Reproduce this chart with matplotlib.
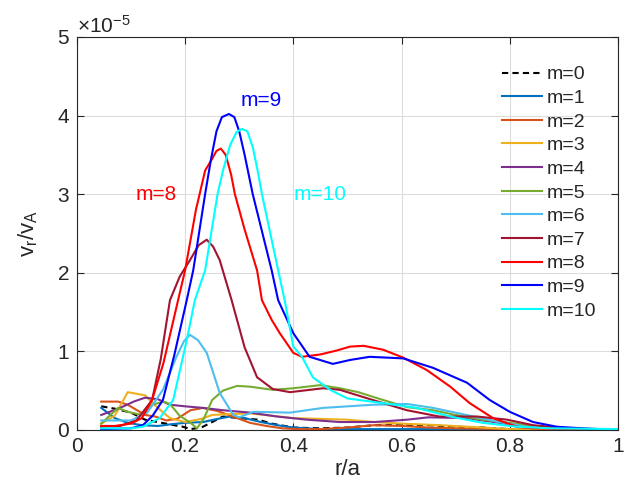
import matplotlib
matplotlib.use("Agg")
import matplotlib.pyplot as plt
from matplotlib.ticker import ScalarFormatter

plt.rcParams['font.family'] = ['Liberation Sans', 'DejaVu Sans']
plt.rcParams['mathtext.default'] = 'regular'

SCALE = 1e-5

# ---- data (v_r/v_A in units of 1e-5) ----
r_m0 = [0.045, 0.07, 0.10, 0.126, 0.157, 0.18, 0.196, 0.21, 0.23, 0.25, 0.27, 0.30, 0.335, 0.36, 0.40, 0.45, 0.50, 0.55, 0.60, 0.65, 0.70, 0.75, 0.80, 0.85, 1.0]
v_m0 = [0.30, 0.27, 0.22, 0.13, 0.09, 0.06, 0.04, 0.01, 0.03, 0.10, 0.17, 0.15, 0.13, 0.08, 0.03, 0.02, 0.03, 0.06, 0.06, 0.06, 0.04, 0.03, 0.01, 0.01, 0.0]

r_m1 = [0.045, 0.07, 0.094, 0.12, 0.15, 0.172, 0.20, 0.233, 0.26, 0.283, 0.31, 0.34, 0.37, 0.40, 0.45, 0.50, 0.60, 0.70, 0.80, 1.0]
v_m1 = [0.28, 0.15, 0.09, 0.06, 0.05, 0.07, 0.09, 0.10, 0.14, 0.17, 0.15, 0.10, 0.06, 0.03, 0.01, 0.01, 0.01, 0.01, 0.0, 0.0]

r_m2 = [0.045, 0.076, 0.094, 0.126, 0.145, 0.165, 0.185, 0.21, 0.233, 0.26, 0.296, 0.32, 0.35, 0.38, 0.406, 0.45, 0.50, 0.55, 0.60, 0.65, 0.70, 0.80, 1.0]
v_m2 = [0.36, 0.36, 0.32, 0.19, 0.17, 0.12, 0.14, 0.25, 0.28, 0.24, 0.15, 0.09, 0.05, 0.02, 0.01, 0.01, 0.03, 0.06, 0.05, 0.03, 0.02, 0.01, 0.0]

r_m3 = [0.045, 0.07, 0.094, 0.126, 0.148, 0.172, 0.20, 0.23, 0.25, 0.28, 0.32, 0.36, 0.40, 0.45, 0.50, 0.55, 0.60, 0.67, 0.75, 0.80, 1.0]
v_m3 = [0.08, 0.18, 0.48, 0.44, 0.29, 0.15, 0.10, 0.14, 0.19, 0.20, 0.21, 0.18, 0.15, 0.14, 0.13, 0.10, 0.08, 0.06, 0.03, 0.01, 0.0]

r_m4 = [0.045, 0.08, 0.105, 0.126, 0.15, 0.172, 0.20, 0.233, 0.27, 0.32, 0.37, 0.425, 0.486, 0.55, 0.61, 0.65, 0.72, 0.76, 0.81, 0.90, 1.0]
v_m4 = [0.19, 0.28, 0.36, 0.41, 0.39, 0.32, 0.30, 0.28, 0.25, 0.22, 0.17, 0.13, 0.10, 0.10, 0.13, 0.16, 0.15, 0.11, 0.06, 0.01, 0.0]

r_m5 = [0.045, 0.076, 0.094, 0.12, 0.139, 0.16, 0.172, 0.19, 0.21, 0.222, 0.235, 0.25, 0.27, 0.296, 0.32, 0.362, 0.40, 0.45, 0.486, 0.52, 0.566, 0.61, 0.658, 0.70, 0.75, 0.80, 0.85, 0.90, 1.0]
v_m5 = [0.08, 0.28, 0.23, 0.19, 0.32, 0.36, 0.33, 0.18, 0.09, 0.02, 0.15, 0.38, 0.50, 0.56, 0.55, 0.51, 0.53, 0.57, 0.53, 0.48, 0.38, 0.29, 0.25, 0.19, 0.13, 0.09, 0.04, 0.01, 0.0]

r_m6 = [0.045, 0.10, 0.13, 0.159, 0.184, 0.198, 0.209, 0.224, 0.24, 0.264, 0.289, 0.30, 0.326, 0.394, 0.455, 0.547, 0.61, 0.658, 0.72, 0.78, 0.83, 0.90, 1.0]
v_m6 = [0.12, 0.12, 0.22, 0.51, 0.93, 1.13, 1.21, 1.14, 0.98, 0.47, 0.19, 0.16, 0.23, 0.22, 0.28, 0.32, 0.33, 0.28, 0.19, 0.10, 0.04, 0.01, 0.0]

r_m7 = [0.045, 0.08, 0.11, 0.139, 0.155, 0.172, 0.19, 0.209, 0.225, 0.24, 0.252, 0.264, 0.286, 0.31, 0.333, 0.362, 0.394, 0.455, 0.486, 0.547, 0.61, 0.67, 0.74, 0.795, 0.843, 0.905, 1.0]
v_m7 = [0.04, 0.05, 0.12, 0.38, 0.90, 1.65, 1.95, 2.16, 2.35, 2.42, 2.33, 2.16, 1.65, 1.05, 0.67, 0.52, 0.48, 0.53, 0.51, 0.38, 0.25, 0.17, 0.17, 0.13, 0.06, 0.02, 0.0]

r_m8 = [0.045, 0.07, 0.10, 0.12, 0.139, 0.16, 0.187, 0.20, 0.22, 0.237, 0.25, 0.258, 0.266, 0.275, 0.285, 0.292, 0.31, 0.333, 0.342, 0.36, 0.375, 0.40, 0.416, 0.45, 0.48, 0.505, 0.53, 0.566, 0.603, 0.647, 0.69, 0.726, 0.769, 0.813, 0.843, 0.90, 1.0]
v_m8 = [0.05, 0.05, 0.08, 0.15, 0.38, 0.85, 1.65, 2.03, 2.8, 3.3, 3.45, 3.55, 3.58, 3.5, 3.25, 3.0, 2.55, 2.03, 1.65, 1.40, 1.23, 0.98, 0.93, 0.96, 1.01, 1.06, 1.07, 1.02, 0.92, 0.76, 0.55, 0.34, 0.15, 0.04, 0.02, 0.01, 0.0]

r_m9 = [0.045, 0.10, 0.122, 0.14, 0.159, 0.18, 0.203, 0.215, 0.237, 0.248, 0.258, 0.268, 0.281, 0.291, 0.30, 0.31, 0.325, 0.36, 0.372, 0.40, 0.43, 0.473, 0.505, 0.541, 0.603, 0.658, 0.721, 0.763, 0.80, 0.843, 0.887, 0.935, 1.0]
v_m9 = [0.01, 0.02, 0.06, 0.18, 0.38, 0.95, 1.65, 2.03, 3.0, 3.45, 3.8, 3.98, 4.02, 3.98, 3.8, 3.5, 3.0, 2.03, 1.65, 1.23, 0.93, 0.84, 0.89, 0.93, 0.91, 0.79, 0.60, 0.38, 0.23, 0.10, 0.04, 0.02, 0.0]

r_m10 = [0.045, 0.10, 0.122, 0.153, 0.178, 0.203, 0.218, 0.237, 0.26, 0.27, 0.283, 0.295, 0.305, 0.315, 0.325, 0.334, 0.342, 0.372, 0.384, 0.40, 0.416, 0.436, 0.468, 0.50, 0.566, 0.628, 0.69, 0.75, 0.813, 0.874, 1.0]
v_m10 = [0.02, 0.02, 0.04, 0.15, 0.38, 1.14, 1.65, 2.03, 3.0, 3.3, 3.62, 3.79, 3.83, 3.8, 3.6, 3.3, 3.0, 2.03, 1.65, 1.06, 0.93, 0.67, 0.51, 0.40, 0.34, 0.28, 0.17, 0.09, 0.04, 0.02, 0.01]

series_r = [r_m0, r_m1, r_m2, r_m3, r_m4, r_m5, r_m6, r_m7, r_m8, r_m9, r_m10]
series_v = [v_m0, v_m1, v_m2, v_m3, v_m4, v_m5, v_m6, v_m7, v_m8, v_m9, v_m10]
labels = ['m=%d' % i for i in range(11)]
colors = ['k', '#0072BD', '#D95319', '#EDB120', '#7E2F8E', '#77AC30',
          '#4DBEEE', '#A2142F', '#FF0000', '#0000FF', '#00FFFF']

x_ticks = [0, 0.2, 0.4, 0.6, 0.8, 1.0]
x_tick_labels = ['0', '0.2', '0.4', '0.6', '0.8', '1']
y_ticks = [0, 1, 2, 3, 4, 5]

# ---- figure ----
fig = plt.figure(figsize=(6.3, 4.93), dpi=100)
ax = fig.add_axes([0.122, 0.128, 0.859, 0.797])

for i, (r, v) in enumerate(zip(series_r, series_v)):
    if i == 0:
        ax.plot(r, [val * SCALE for val in v], color=colors[i], lw=1.5,
                ls='--', dashes=(3, 2), label=labels[i])
    else:
        ax.plot(r, [val * SCALE for val in v], color=colors[i], lw=1.5,
                label=labels[i])

ax.set_xlim(0, 1)
ax.set_ylim(0, 5 * SCALE)
ax.set_xticks(x_ticks)
ax.set_xticklabels(x_tick_labels)
ax.set_yticks([t * SCALE for t in y_ticks])
fmt = ScalarFormatter(useMathText=True)
fmt.set_powerlimits((0, 0))
ax.yaxis.set_major_formatter(fmt)
ax.yaxis.get_offset_text().set_fontsize(15)
ax.yaxis.get_offset_text().set_color('#262626')

ax.grid(True, color='#dcdcdc', lw=0.8)
ax.set_axisbelow(True)
ax.tick_params(direction='in', top=True, right=True, length=5, width=0.8,
               labelsize=15, colors='#262626', pad=5)
for s in ax.spines.values():
    s.set_color('#262626')
    s.set_linewidth(0.8)

ax.set_xlabel('r/a', fontsize=16, color='#262626', labelpad=2)
ax.set_ylabel('v$_r$/v$_A$', fontsize=16, color='#262626', labelpad=12)

ax.text(0.34, 4.19 * SCALE, 'm=9', color='#0000FF', fontsize=15, ha='center', va='center')
ax.text(0.147, 3.0 * SCALE, 'm=8', color='#FF0000', fontsize=15, ha='center', va='center')
ax.text(0.45, 3.0 * SCALE, 'm=10', color='#00FFFF', fontsize=15, ha='center', va='center')

leg = ax.legend(loc='upper right', frameon=False, fontsize=14, handlelength=2.05,
                labelspacing=0.31, handletextpad=0.26, borderaxespad=0,
                bbox_to_anchor=(1 - 14.0 / 541, 1 - 21.0 / 393))
for t in leg.get_texts():
    t.set_color('#262626')

fig.savefig('out.png', dpi=100)
